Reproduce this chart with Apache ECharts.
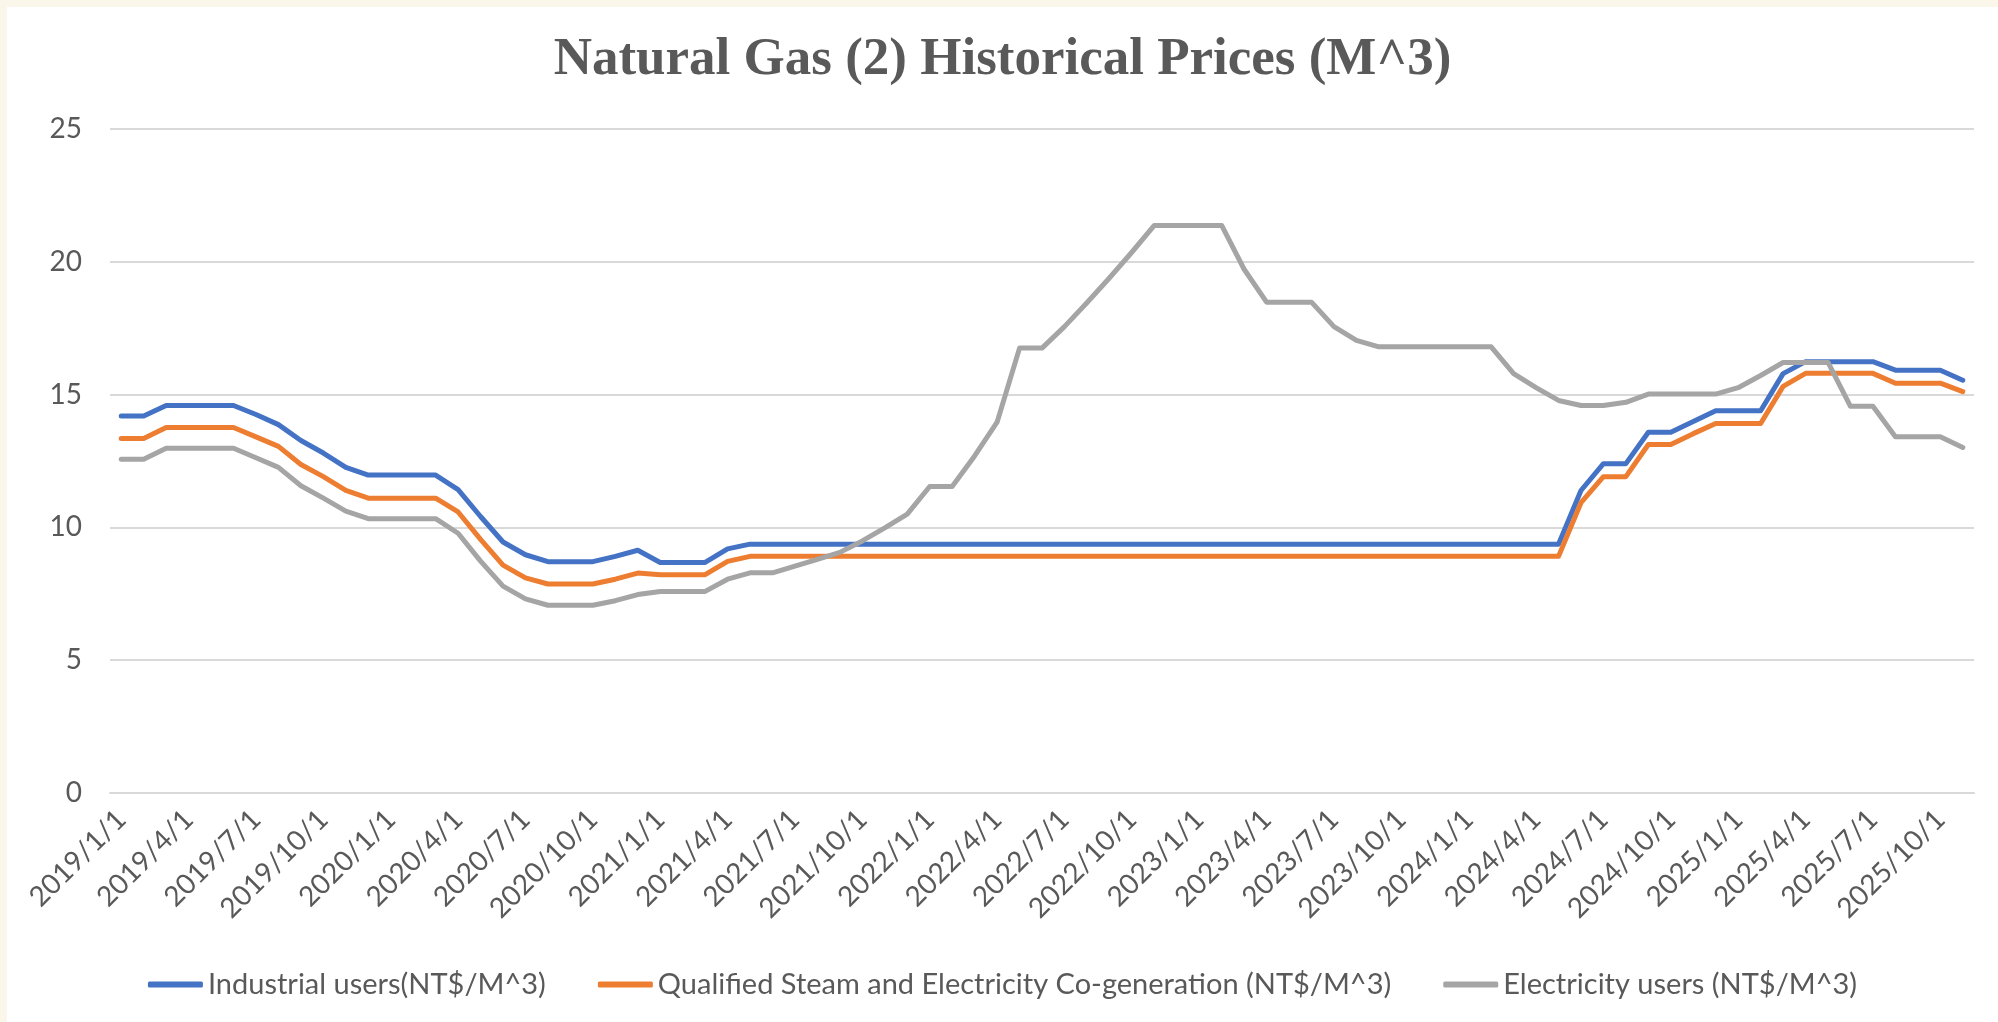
<!DOCTYPE html>
<html>
<head>
<meta charset="utf-8">
<script src="https://cdn.jsdelivr.net/npm/echarts@6/dist/echarts.min.js"></script>
<style>
  html, body { margin: 0; padding: 0; background: #FAF7EA; }
  #chart { position: absolute; left: 7px; top: 7px; width: 1991px; height: 1015px; background: #ffffff; }
</style>
</head>
<body>
<div id="chart"></div>
<script>
// monthly categories 2019/1/1 .. 2025/11/1
var months = [
    '2019/1/1','2019/2/1','2019/3/1','2019/4/1','2019/5/1','2019/6/1','2019/7/1','2019/8/1','2019/9/1','2019/10/1','2019/11/1','2019/12/1',
    '2020/1/1','2020/2/1','2020/3/1','2020/4/1','2020/5/1','2020/6/1','2020/7/1','2020/8/1','2020/9/1','2020/10/1','2020/11/1','2020/12/1',
    '2021/1/1','2021/2/1','2021/3/1','2021/4/1','2021/5/1','2021/6/1','2021/7/1','2021/8/1','2021/9/1','2021/10/1','2021/11/1','2021/12/1',
    '2022/1/1','2022/2/1','2022/3/1','2022/4/1','2022/5/1','2022/6/1','2022/7/1','2022/8/1','2022/9/1','2022/10/1','2022/11/1','2022/12/1',
    '2023/1/1','2023/2/1','2023/3/1','2023/4/1','2023/5/1','2023/6/1','2023/7/1','2023/8/1','2023/9/1','2023/10/1','2023/11/1','2023/12/1',
    '2024/1/1','2024/2/1','2024/3/1','2024/4/1','2024/5/1','2024/6/1','2024/7/1','2024/8/1','2024/9/1','2024/10/1','2024/11/1','2024/12/1',
    '2025/1/1','2025/2/1','2025/3/1','2025/4/1','2025/5/1','2025/6/1','2025/7/1','2025/8/1','2025/9/1','2025/10/1','2025/11/1'
];

var industrial = [
    14.19, 14.19, 14.59, 14.59, 14.59, 14.59, 14.25, 13.87, 13.27, 12.80, 12.26, 11.97,
    11.97, 11.97, 11.97, 11.42, 10.41, 9.45, 8.97, 8.71, 8.71, 8.71, 8.91, 9.14,
    8.68, 8.68, 8.68, 9.19, 9.37, 9.37, 9.37, 9.37, 9.37, 9.37, 9.37, 9.37,
    9.37, 9.37, 9.37, 9.37, 9.37, 9.37, 9.37, 9.37, 9.37, 9.37, 9.37, 9.37,
    9.37, 9.37, 9.37, 9.37, 9.37, 9.37, 9.37, 9.37, 9.37, 9.37, 9.37, 9.37,
    9.37, 9.37, 9.37, 9.37, 9.37, 11.39, 12.40, 12.40, 13.58, 13.58, 13.99, 14.39,
    14.39, 14.39, 15.79, 16.24, 16.24, 16.24, 16.24, 15.92, 15.92, 15.92, 15.54
];

var cogeneration = [
    13.35, 13.35, 13.76, 13.76, 13.76, 13.76, 13.41, 13.05, 12.37, 11.91, 11.39, 11.10,
    11.10, 11.10, 11.10, 10.58, 9.55, 8.58, 8.10, 7.87, 7.87, 7.87, 8.05, 8.28,
    8.22, 8.22, 8.22, 8.72, 8.91, 8.91, 8.91, 8.91, 8.91, 8.91, 8.91, 8.91,
    8.91, 8.91, 8.91, 8.91, 8.91, 8.91, 8.91, 8.91, 8.91, 8.91, 8.91, 8.91,
    8.91, 8.91, 8.91, 8.91, 8.91, 8.91, 8.91, 8.91, 8.91, 8.91, 8.91, 8.91,
    8.91, 8.91, 8.91, 8.91, 8.91, 10.93, 11.91, 11.91, 13.12, 13.12, 13.53, 13.91,
    13.91, 13.91, 15.31, 15.80, 15.80, 15.80, 15.80, 15.43, 15.43, 15.43, 15.11
];

var electricity = [
    12.57, 12.57, 12.98, 12.98, 12.98, 12.98, 12.62, 12.26, 11.57, 11.10, 10.61, 10.33,
    10.33, 10.33, 10.33, 9.78, 8.73, 7.79, 7.31, 7.07, 7.07, 7.07, 7.24, 7.47,
    7.59, 7.59, 7.59, 8.05, 8.29, 8.29, 8.54, 8.80, 9.06, 9.49, 9.98, 10.50,
    11.54, 11.54, 12.69, 13.96, 16.75, 16.75, 17.56, 18.46, 19.39, 20.36, 21.37, 21.37,
    21.37, 21.37, 19.72, 18.48, 18.48, 18.48, 17.56, 17.04, 16.80, 16.80, 16.80, 16.80,
    16.80, 16.80, 15.79, 15.26, 14.78, 14.59, 14.59, 14.71, 15.02, 15.02, 15.02, 15.02,
    15.26, 15.72, 16.21, 16.21, 16.21, 14.56, 14.56, 13.41, 13.41, 13.41, 13.01
];

var yTicks = [0, 5, 10, 15, 20, 25];

var names = [
    'Industrial users(NT$/M^3)',
    'Qualified Steam and Electricity Co-generation (NT$/M^3)',
    'Electricity users (NT$/M^3)'
];
var colors = ['#4472C4', '#ED7D31', '#A5A5A5'];

var dom = document.getElementById('chart');
var myChart = echarts.init(dom);

function lineSeries(name, data, color) {
    return {
        name: name,
        type: 'line',
        data: data,
        symbol: 'none',
        color: color,
        lineStyle: { width: 5, color: color, cap: 'round', join: 'round' },
        animation: false
    };
}

var option = {
    backgroundColor: '#ffffff',
    color: colors,
    title: {
        text: 'Natural Gas (2) Historical Prices (M^3)',
        left: 'center',
        top: 22,
        textStyle: {
            fontFamily: 'Liberation Serif',
            fontWeight: 'bold',
            fontSize: 53,
            color: '#595959'
        }
    },
    legend: {
        data: names,
        top: 958,
        left: 'center',
        icon: 'roundRect',
        itemWidth: 55,
        itemHeight: 6,
        itemGap: 52,
        textStyle: { fontFamily: 'Lato', fontSize: 29, color: '#595959' }
    },
    grid: {
        left: 103,
        right: 24,
        top: 122,
        bottom: 229,
        containLabel: false
    },
    xAxis: {
        type: 'category',
        data: months,
        boundaryGap: true,
        axisLine: { show: true, lineStyle: { color: '#D9D9D9', width: 2 } },
        axisTick: { show: false },
        axisLabel: {
            interval: 2,
            rotate: 45,
            margin: 22,
            fontFamily: 'Lato',
            fontSize: 28,
            color: '#595959'
        }
    },
    yAxis: {
        type: 'value',
        min: yTicks[0],
        max: yTicks[yTicks.length - 1],
        interval: 5,
        axisLine: { show: false },
        axisTick: { show: false },
        splitLine: { lineStyle: { color: '#D9D9D9', width: 2 } },
        axisLabel: {
            margin: 28,
            fontFamily: 'Lato',
            fontSize: 28,
            color: '#595959'
        }
    },
    series: [
        lineSeries(names[0], industrial, colors[0]),
        lineSeries(names[1], cogeneration, colors[1]),
        lineSeries(names[2], electricity, colors[2])
    ]
};

if (option && typeof option === "object") {
    myChart.setOption(option, true);
}
</script>
</body>
</html>
